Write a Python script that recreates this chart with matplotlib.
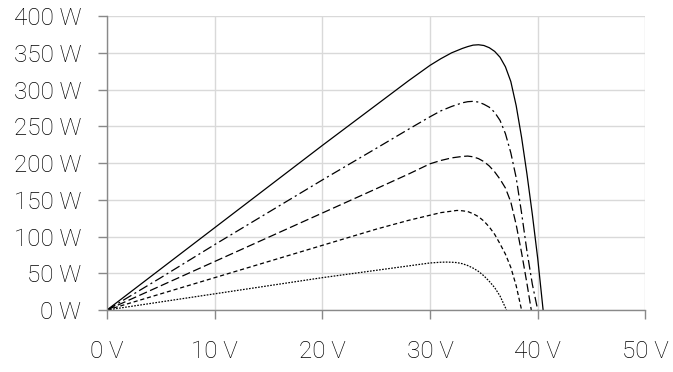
import matplotlib
matplotlib.use("Agg")
import matplotlib.pyplot as plt

plt.rcParams['font.family'] = ['Roboto', 'DejaVu Sans']
plt.rcParams['lines.scale_dashes'] = False

# P-V curves (voltage in V, power in W)
v_1000 = [0, 5, 10, 15, 20, 25, 28, 30, 31, 32, 33, 33.5, 34, 34.5, 35, 35.5, 36, 36.5, 37, 37.5, 38, 38.5, 39, 39.5, 40, 40.5]
p_1000 = [0, 56, 112, 168, 224, 279, 312, 333, 342, 350, 356, 358.5, 360.5, 361, 360, 357, 352, 344, 331, 311, 278, 235, 185, 130, 70, 0]

v_800 = [0, 5, 10, 15, 20, 25, 28, 30, 31, 32, 33, 33.5, 34, 34.5, 35, 35.5, 36, 36.5, 37, 37.5, 38, 38.5, 39, 39.5, 40]
p_800 = [0, 44, 89, 133, 177, 220, 246, 263, 271, 277, 282, 283.5, 284, 283, 280, 276, 269, 258, 240, 214, 180, 132, 80, 35, 0]

v_600 = [0, 5, 10, 15, 20, 25, 28, 30, 31, 32, 33, 33.5, 34, 34.5, 35, 35.5, 36, 36.5, 37, 37.5, 38, 38.5, 39, 39.4]
p_600 = [0, 33, 66, 99, 132, 165, 185, 199, 203.5, 207, 209, 209.5, 208.5, 206, 202, 196, 188, 178, 166, 147, 116, 78, 36, 0]

v_400 = [0, 5, 10, 15, 20, 25, 28, 30, 31, 32, 32.5, 33, 33.5, 34, 34.5, 35, 35.5, 36, 36.5, 37, 37.5, 38, 38.5]
p_400 = [0, 22, 44, 66, 88, 110, 122, 129, 132.5, 134.5, 135.5, 135, 134, 131, 127, 121, 113, 103, 90, 76, 58, 33, 0]

v_200 = [0, 5, 10, 15, 20, 25, 28, 30, 31, 31.5, 32, 32.5, 33, 33.5, 34, 34.5, 35, 35.5, 36, 36.5, 37.1]
p_200 = [0, 11, 22, 33, 44, 54, 60, 64, 65, 65.2, 65, 64.5, 63, 60.5, 57, 52.5, 46.5, 39, 30.5, 19, 0]

x_ticks = [0, 10, 20, 30, 40, 50]
y_ticks = [0, 50, 100, 150, 200, 250, 300, 350, 400]

fig = plt.figure(figsize=(6.73, 3.72), dpi=100)
ax = fig.add_axes([0.159, 0.1667, 0.8, 0.79])

lw = 0.9
ax.plot(v_1000, p_1000, color='black', linewidth=lw, linestyle='-')
ax.plot(v_800, p_800, color='black', linewidth=lw, linestyle=(0, (7, 2.5, 1.5, 2.5)))
ax.plot(v_600, p_600, color='black', linewidth=lw, linestyle=(0, (6, 2.5)))
ax.plot(v_400, p_400, color='black', linewidth=lw, linestyle=(0, (3, 2)))
ax.plot(v_200, p_200, color='black', linewidth=lw, linestyle=(0, (1.2, 1)))

ax.set_xlim(0, 50)
ax.set_ylim(0, 400)
ax.set_xticks(x_ticks)
ax.set_yticks(y_ticks)
ax.set_xticklabels([str(x) + " V" for x in x_ticks], fontweight='light')
ax.set_yticklabels([str(y) + " W" for y in y_ticks], fontweight='light')

ax.grid(True, color='#d9d9d9', linewidth=1)
ax.set_axisbelow(True)
for s in ['top', 'right']:
    ax.spines[s].set_visible(False)
for s in ['left', 'bottom']:
    ax.spines[s].set_color('#898989')
    ax.spines[s].set_linewidth(1)

ax.tick_params(axis='both', direction='out', length=6.5, width=1, color='#898989',
               labelsize=17.5, labelcolor='black')
ax.tick_params(axis='x', pad=15)
ax.tick_params(axis='y', pad=12)

fig.savefig("out.png", dpi=100)
